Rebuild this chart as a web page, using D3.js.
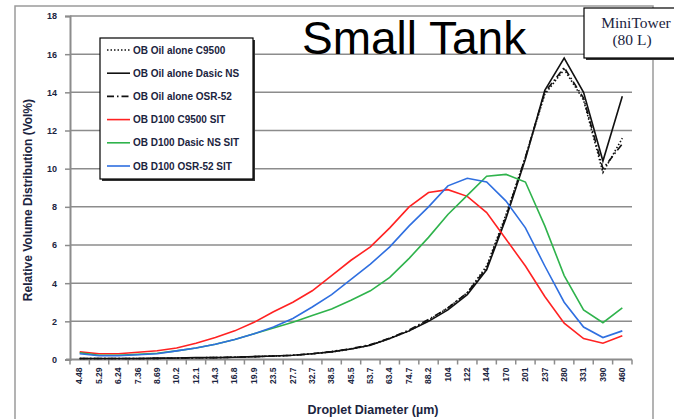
<!DOCTYPE html>
<html>
<head>
<meta charset="utf-8">
<script src="https://cdn.jsdelivr.net/npm/d3@7"></script>
<style>
  body { margin: 0; background: #fff; }
  svg { display: block; font-family: "Liberation Sans", Arial, sans-serif; }
  .tick-lbl { font-size: 8px; font-weight: bold; fill: #1b2440; }
  .axis-title { font-weight: bold; fill: #1b2440; }
</style>
</head>
<body>
<svg id="chart"></svg>
<script>
// droplet size classes (µm)
var diameters = ['4.48', '5.29', '6.24', '7.36', '8.69', '10.2', '12.1', '14.3', '16.8', '19.9',
  '23.5', '27.7', '32.7', '38.5', '45.5', '53.7', '63.4', '74.7', '88.2', '104',
  '122', '144', '170', '201', '237', '280', '331', '390', '460'];

var yTicks = [0, 2, 4, 6, 8, 10, 12, 14, 16, 18];

var oilC9500 = [0.05, 0.05, 0.05, 0.05, 0.06, 0.07, 0.09, 0.1, 0.12, 0.15,
  0.18, 0.22, 0.3, 0.4, 0.55, 0.75, 1.1, 1.5, 2.05, 2.7,
  3.5, 4.9, 7.6, 10.6, 13.9, 15.2, 13.6, 9.8, 11.6];
var oilDasic = [0.05, 0.05, 0.05, 0.05, 0.07, 0.08, 0.1, 0.1, 0.12, 0.15,
  0.18, 0.22, 0.3, 0.4, 0.55, 0.75, 1.1, 1.5, 2.0, 2.6,
  3.4, 4.7, 7.4, 10.5, 14.1, 15.8, 14.0, 10.4, 13.8];
var oilOSR = [0.05, 0.05, 0.05, 0.05, 0.06, 0.07, 0.09, 0.1, 0.12, 0.15,
  0.18, 0.22, 0.3, 0.42, 0.57, 0.78, 1.12, 1.55, 2.1, 2.7,
  3.5, 4.8, 7.5, 10.6, 14.0, 15.3, 13.7, 10.0, 11.3];
var d100C9500 = [0.4, 0.3, 0.3, 0.38, 0.46, 0.6, 0.85, 1.15, 1.5, 1.95,
  2.5, 3.0, 3.6, 4.4, 5.2, 5.9, 6.9, 8.0, 8.75, 8.9,
  8.55, 7.7, 6.3, 4.9, 3.3, 1.9, 1.1, 0.85, 1.25];
var d100Dasic = [0.35, 0.22, 0.22, 0.27, 0.33, 0.45, 0.6, 0.8, 1.05, 1.35,
  1.65, 1.95, 2.3, 2.65, 3.1, 3.6, 4.3, 5.3, 6.4, 7.6,
  8.6, 9.6, 9.7, 9.3, 7.0, 4.4, 2.6, 1.93, 2.7];
var d100OSR = [0.3, 0.2, 0.2, 0.25, 0.3, 0.45, 0.6, 0.8, 1.05, 1.35,
  1.7, 2.15, 2.75, 3.4, 4.2, 5.0, 5.9, 7.0, 8.0, 9.1,
  9.5, 9.3, 8.3, 6.9, 4.9, 3.0, 1.7, 1.15, 1.5];

var seriesNames = ['OB Oil alone C9500', 'OB Oil alone Dasic NS', 'OB Oil alone OSR-52',
  'OB D100 C9500 SIT', 'OB D100 Dasic NS SIT', 'OB D100 OSR-52 SIT'];
var seriesValues = [oilC9500, oilDasic, oilOSR, d100C9500, d100Dasic, d100OSR];
var seriesColors = ['#111', '#111', '#111', '#ff2222', '#2fb34c', '#2f6fe0'];
var seriesDash = ['1.5,2', null, '7,3,1.5,3', null, null, null];

var width = 674, height = 419;
var svg = d3.select('#chart').attr('width', width).attr('height', height);

var x = d3.scaleBand().domain(diameters).range([70, 632]).paddingInner(0).paddingOuter(0);
var y = d3.scaleLinear().domain([0, 18]).range([359.5, 16]);

// outer chart frame
svg.append('rect').attr('x', 15).attr('y', 6).attr('width', 638).attr('height', 430)
  .attr('fill', 'none').attr('stroke', '#9a9a9a').attr('stroke-width', 1.5);

// gridlines
svg.append('g').selectAll('line').data(yTicks.filter(function(d) { return d > 0; })).enter()
  .append('line')
  .attr('x1', 70).attr('x2', 632)
  .attr('y1', function(d) { return y(d); }).attr('y2', function(d) { return y(d); })
  .attr('stroke', '#8c8c8c').attr('stroke-width', 1.5);

// y axis
var yAxis = svg.append('g').attr('transform', 'translate(70,0)')
  .call(d3.axisLeft(y).tickValues(yTicks).tickSize(5).tickPadding(8));
yAxis.select('.domain').attr('stroke', '#8c8c8c').attr('stroke-width', 2);
yAxis.selectAll('.tick line').attr('stroke', '#8c8c8c').attr('stroke-width', 1.5);
yAxis.selectAll('.tick text').attr('class', 'tick-lbl').style('font-size', '9px')
  .style('font-family', '"Liberation Sans", Arial, sans-serif');

// x axis (ticks between categories)
var xAxis = svg.append('g').attr('transform', 'translate(0,' + y(0) + ')')
  .call(d3.axisBottom(x).tickSize(0).tickPadding(0));
xAxis.select('.domain').remove();
xAxis.selectAll('.tick text')
  .attr('class', 'tick-lbl')
  .style('font-family', '"Liberation Sans", Arial, sans-serif')
  .style('font-size', '8.5px')
  .attr('transform', 'translate(0,8) rotate(-90)')
  .attr('text-anchor', 'end')
  .attr('dy', '0.32em').attr('x', 0).attr('y', 0);

svg.append('line').attr('x1', 66).attr('x2', 632).attr('y1', y(0)).attr('y2', y(0))
  .attr('stroke', '#8c8c8c').attr('stroke-width', 2);
svg.append('g').selectAll('line').data(diameters.concat(['end'])).enter()
  .append('line')
  .attr('x1', function(d) { return d === 'end' ? x.range()[1] : x(d); })
  .attr('x2', function(d) { return d === 'end' ? x.range()[1] : x(d); })
  .attr('y1', y(0)).attr('y2', y(0) + 5)
  .attr('stroke', '#8c8c8c').attr('stroke-width', 1.5);

// axis titles
svg.append('text').attr('class', 'axis-title')
  .attr('transform', 'translate(32,200) rotate(-90)')
  .attr('text-anchor', 'middle').style('font-size', '12px')
  .text('Relative Volume Distribution (Vol%)');
svg.append('text').attr('class', 'axis-title')
  .attr('x', 373).attr('y', 414).attr('text-anchor', 'middle').style('font-size', '12.5px')
  .text('Droplet Diameter (µm)');

// title
svg.append('text').attr('x', 302).attr('y', 54)
  .style('font-size', '46px').attr('fill', '#000')
  .text('Small Tank');

// series
var line = d3.line()
  .x(function(d, i) { return x(diameters[i]) + x.bandwidth() / 2; })
  .y(function(d) { return y(d); });

seriesValues.forEach(function(vals, i) {
  svg.append('path').datum(vals)
    .attr('d', line)
    .attr('fill', 'none')
    .attr('stroke', seriesColors[i])
    .attr('stroke-width', 1.6)
    .attr('stroke-dasharray', seriesDash[i]);
});

// legend
var lg = svg.append('g');
lg.append('rect').attr('x', 102).attr('y', 40).attr('width', 153).attr('height', 141).attr('fill', '#333');
lg.append('rect').attr('x', 100).attr('y', 38).attr('width', 153).attr('height', 141)
  .attr('fill', '#fff').attr('stroke', '#000').attr('stroke-width', 1.2);
seriesNames.forEach(function(name, i) {
  var ly = 50 + i * 23.2;
  lg.append('line').attr('x1', 107).attr('x2', 130).attr('y1', ly).attr('y2', ly)
    .attr('stroke', seriesColors[i]).attr('stroke-width', 1.6)
    .attr('stroke-dasharray', seriesDash[i]);
  lg.append('text').attr('x', 133).attr('y', ly).attr('dy', '0.35em')
    .style('font-size', '10px').style('font-weight', 'bold').attr('fill', '#1b2440')
    .text(name);
});

// MiniTower note
var note = svg.append('g');
note.append('rect').attr('x', 586).attr('y', 10).attr('width', 100).attr('height', 50).attr('fill', '#333');
note.append('rect').attr('x', 584).attr('y', 8).attr('width', 100).attr('height', 50)
  .attr('fill', '#fff').attr('stroke', '#000').attr('stroke-width', 1.2);
note.append('text').attr('x', 636).attr('y', 28).attr('text-anchor', 'middle')
  .style('font-family', '"Liberation Serif", "Times New Roman", serif').style('font-size', '15.5px')
  .attr('fill', '#1b2440').text('MiniTower');
note.append('text').attr('x', 632).attr('y', 45).attr('text-anchor', 'middle')
  .style('font-family', '"Liberation Serif", "Times New Roman", serif').style('font-size', '15.5px')
  .attr('fill', '#1b2440').text('(80 L)');
</script>
</body>
</html>
